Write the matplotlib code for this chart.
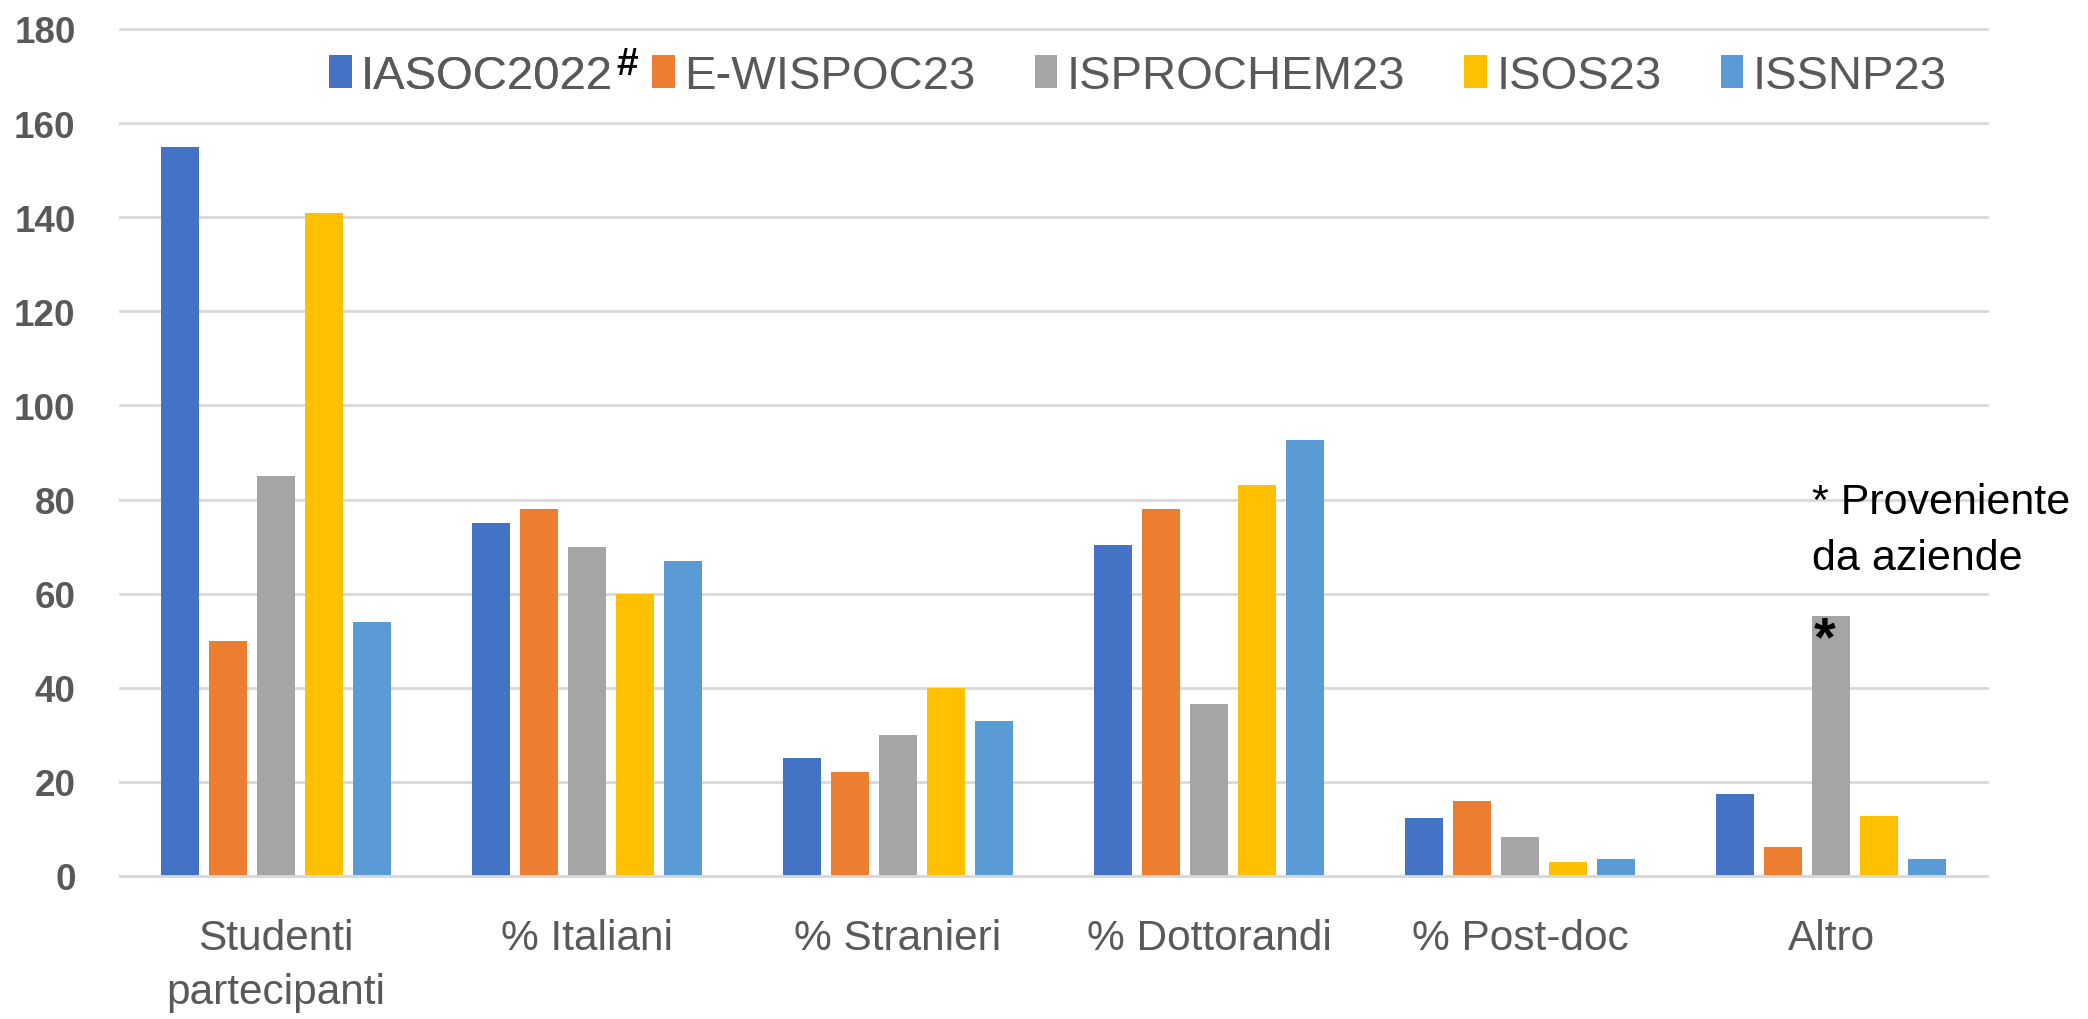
import matplotlib
matplotlib.use("Agg")
import matplotlib.pyplot as plt
import numpy as np
from matplotlib import font_manager

categories = ["Studenti\npartecipanti", "% Italiani", "% Stranieri", "% Dottorandi", "% Post-doc", "Altro"]
series_names = ["IASOC2022", "E-WISPOC23", "ISPROCHEM23", "ISOS23", "ISSNP23"]
iasoc2022 = [155, 75, 25, 70.3, 12.3, 17.4]
ewispoc23 = [50, 78, 22, 78, 16, 6.1]
isprochem23 = [85, 70, 30, 36.5, 8.2, 55.3]
isos23 = [141, 60, 40, 83, 2.9, 12.7]
issnp23 = [54, 67, 33, 92.6, 3.7, 3.7]
yticks = [0, 20, 40, 60, 80, 100, 120, 140, 160, 180]

colors = ["#4472C4", "#ED7D31", "#A5A5A5", "#FFC000", "#5B9BD5"]
series = [iasoc2022, ewispoc23, isprochem23, isos23, issnp23]

names = {f.name for f in font_manager.fontManager.ttflist}
fam = "Liberation Sans" if "Liberation Sans" in names else "DejaVu Sans"
plt.rcParams['font.family'] = [fam, 'DejaVu Sans']

grey_txt = "#595959"
grid_c = "#D9D9D9"
leg_fs = 34

fig = plt.figure(figsize=(20.88, 10.2), dpi=100)
ax = fig.add_axes([0.0575, 0.1402, 0.894, 0.8304])

x = np.arange(len(categories))
pitch = 0.1543
width = 0.122
containers = []
for i, (vals, c, nm) in enumerate(zip(series, colors, series_names)):
    containers.append(ax.bar(x + (i - 2) * pitch, vals, width, color=c, label=nm, zorder=3))

ax.set_xlim(-0.5, len(categories) - 0.5)
ax.set_ylim(0, 180)
ax.set_yticks(yticks)
ax.set_yticklabels([str(v) for v in yticks], fontsize=26.5, fontweight='bold', color=grey_txt)
ax.set_xticks(x)
ax.set_xticklabels(categories, fontsize=30.5, color=grey_txt, linespacing=1.45)
ax.tick_params(axis='y', length=0, pad=32)
ax.tick_params(axis='x', length=0, pad=30)
for s in ["top", "right", "left"]:
    ax.spines[s].set_visible(False)
ax.spines["bottom"].set_color(grid_c)
ax.spines["bottom"].set_linewidth(2)
ax.spines["bottom"].set_zorder(4)
ax.yaxis.grid(True, color=grid_c, linewidth=2, zorder=0)
ax.set_axisbelow(True)
for gl in ax.get_ygridlines():
    gl.set_clip_on(False)

leg_kw = dict(frameon=False, fontsize=leg_fs, handlelength=0.48, handleheight=0.72,
              handletextpad=0.2, borderpad=0, borderaxespad=0)
leg1 = fig.legend([containers[0]], [series_names[0]], loc='center left', ncol=1,
                  bbox_to_anchor=(329 / 2088, 0.9245), **leg_kw)
leg2 = fig.legend(containers[1:], series_names[1:], loc='center right', ncol=4,
                  columnspacing=1.25, bbox_to_anchor=(1947 / 2088, 0.9245), **leg_kw)
fig.add_artist(leg1)
for lg in (leg1, leg2):
    for t in lg.get_texts():
        t.set_color(grey_txt)

# annotations
ax.text(4.937, 79.5, "* Proveniente", fontsize=31, color="black", va='center', ha='left')
ax.text(4.937, 67.6, "da aziende", fontsize=31, color="black", va='center', ha='left')
ax.text(4.98, 50.0, "*", fontsize=40, fontweight='bold', color="black", va='center', ha='center', zorder=5)

fig.canvas.draw()
r = fig.canvas.get_renderer()
bb = leg1.get_texts()[0].get_window_extent(r)
inv = fig.transFigure.inverted()
x0, y1 = inv.transform((bb.x1 + 3, bb.y1 + 8))
fig.text(x0, y1, "#", fontsize=28, fontweight='bold', color="black", ha='left', va='top')

fig.savefig("out.png", dpi=100)
